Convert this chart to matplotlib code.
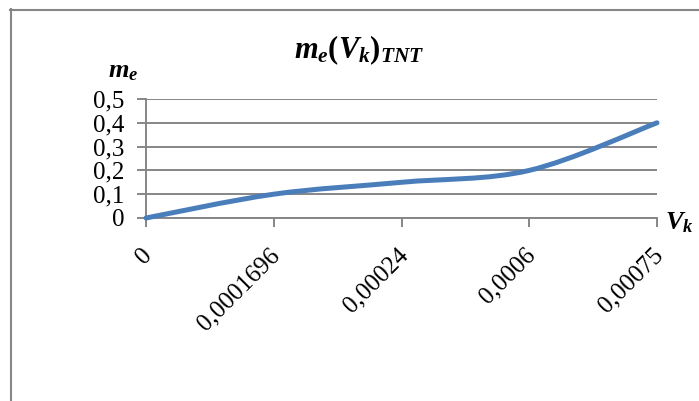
import matplotlib
matplotlib.use("Agg")
import matplotlib.pyplot as plt
from matplotlib.path import Path
from matplotlib.patches import PathPatch
from matplotlib.lines import Line2D
from matplotlib.transforms import ScaledTranslation

plt.rcParams['font.family'] = ['Liberation Serif', 'DejaVu Serif']
plt.rcParams['mathtext.fontset'] = 'custom'
plt.rcParams['mathtext.it'] = 'Liberation Serif:italic:bold'
plt.rcParams['mathtext.rm'] = 'Liberation Serif:bold'
plt.rcParams['mathtext.bf'] = 'Liberation Serif:bold'

# data
vk_labels = ["0", "0,0001696", "0,00024", "0,0006", "0,00075"]
me_values = [0.0, 0.1, 0.15, 0.2, 0.4]
y_ticks = [0.0, 0.1, 0.2, 0.3, 0.4, 0.5]
y_labels = ["0", "0,1", "0,2", "0,3", "0,4", "0,5"]

grid_col = "#868686"
line_col = "#4a7ebb"
W, H = 699, 401

fig = plt.figure(figsize=(W / 100, H / 100), dpi=100)
ax = fig.add_axes([146 / W, 1 - 218 / H, (657 - 146) / W, (218 - 99) / H])

# Excel-like smoothed line: cubic bezier through the points
xs = list(range(len(me_values)))
pts = list(zip(xs, me_values))
verts = [pts[0]]
codes = [Path.MOVETO]
n = len(pts)
for i in range(n - 1):
    p0 = pts[max(i - 1, 0)]
    p1 = pts[i]
    p2 = pts[i + 1]
    p3 = pts[min(i + 2, n - 1)]
    c1 = (p1[0] + (p2[0] - p0[0]) / 6, p1[1] + (p2[1] - p0[1]) / 6)
    c2 = (p2[0] - (p3[0] - p1[0]) / 6, p2[1] - (p3[1] - p1[1]) / 6)
    verts += [c1, c2, p2]
    codes += [Path.CURVE4] * 3
ax.add_patch(PathPatch(Path(verts, codes), fill=False, ec=line_col, lw=3.6,
                       capstyle='round', joinstyle='round', clip_on=False, zorder=3))

ax.set_xlim(0, len(vk_labels) - 1)
ax.set_ylim(0, 0.5)
ax.set_yticks(y_ticks)
ax.set_yticklabels(y_labels, fontsize=18)
ax.set_xticks(xs)
ax.set_xticklabels(vk_labels, fontsize=18, rotation=45, ha='right', va='center',
                   rotation_mode='anchor')
ax.yaxis.grid(True, color=grid_col, lw=1.4)
ax.set_axisbelow(True)
for s in ['top', 'right']:
    ax.spines[s].set_visible(False)
for s in ['left', 'bottom']:
    ax.spines[s].set_color(grid_col)
    ax.spines[s].set_linewidth(1.4)
ax.tick_params(axis='both', direction='out', length=6.5, width=1.4, color=grid_col)
ax.tick_params(axis='y', pad=9)
ax.tick_params(axis='x', pad=18)

# nudge rotated labels, like Excel places them
shift = ScaledTranslation(3 / 100, 0, fig.dpi_scale_trans)
for lbl in ax.get_xticklabels():
    lbl.set_transform(lbl.get_transform() + shift)

fig.text(359 / W, 1 - 50 / H, r'$m_e(V_k)_{TNT}$', fontsize=22, ha='center', va='center')
fig.text(123 / W, 1 - 72 / H, r'$m_e$', fontsize=19, ha='center', va='center')
fig.text(679 / W, 1 - 223 / H, r'$V_k$', fontsize=19, ha='center', va='center')

# chart frame (top and left edges visible)
fig.add_artist(Line2D([10 / W, 1], [1 - 9.5 / H, 1 - 9.5 / H], color=grid_col, lw=1.5,
                      transform=fig.transFigure))
fig.add_artist(Line2D([10.5 / W, 10.5 / W], [1 - 9 / H, 0], color=grid_col, lw=1.5,
                      transform=fig.transFigure))

fig.savefig("out.png", dpi=100)
